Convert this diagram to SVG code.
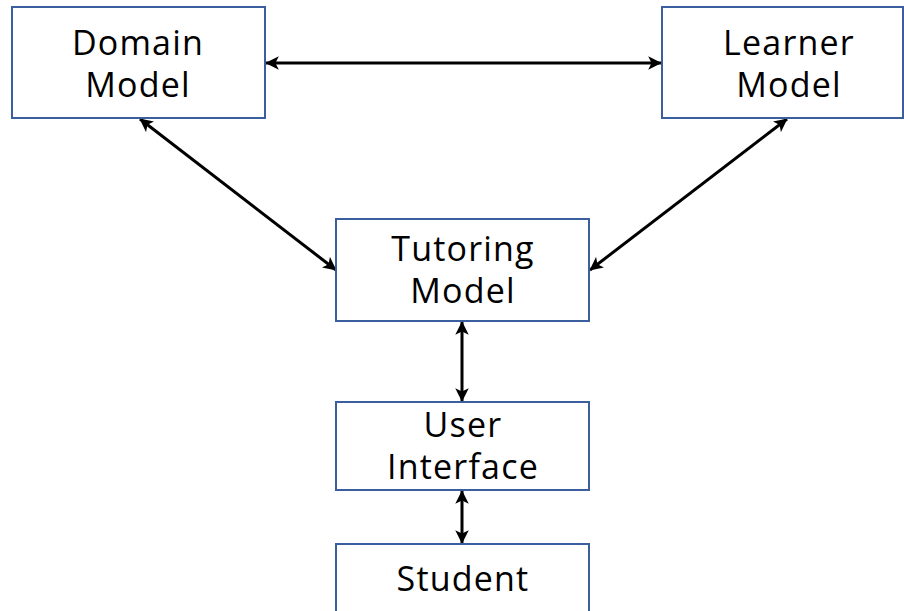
<svg xmlns="http://www.w3.org/2000/svg" width="904" height="611" viewBox="0 0 904 611">
  <defs>
    <marker id="head" viewBox="0 0 10 10" refX="9.5" refY="5" markerWidth="4.5" markerHeight="4.5" orient="auto-start-reverse" markerUnits="strokeWidth">
      <path d="M0,0 L10,5 L0,10 L2.5,5 Z" fill="#000"/>
    </marker>
  </defs>
  <style>
    .box { fill: #fff; stroke: #3B5E9E; stroke-width: 2; }
    .label { font-family: "Open Sans", "Noto Sans", sans-serif; font-size: 34px; letter-spacing: 1.2px; fill: #000; text-anchor: middle; }
    .link { stroke: #000; stroke-width: 3; fill: none; marker-start: url(#head); marker-end: url(#head); }
  </style>
  <rect width="904" height="611" fill="#fff"/>

  <g id="connectors">
    <line class="link" x1="266" y1="63" x2="661" y2="63"/>
    <line class="link" x1="140" y1="119" x2="336" y2="270"/>
    <line class="link" x1="787" y1="119" x2="590" y2="270"/>
    <line class="link" x1="462" y1="322" x2="462" y2="401"/>
    <line class="link" x1="462" y1="491" x2="462" y2="543"/>
  </g>

  <g id="domain-model">
    <rect class="box" x="12" y="7" width="253" height="111"/>
    <text class="label" x="138" y="55">Domain</text>
    <text class="label" x="138" y="97">Model</text>
  </g>

  <g id="learner-model">
    <rect class="box" x="662" y="7" width="241" height="111"/>
    <text class="label" x="789" y="55">Learner</text>
    <text class="label" x="789" y="97">Model</text>
  </g>

  <g id="tutoring-model">
    <rect class="box" x="336" y="219" width="253" height="102"/>
    <text class="label" x="463" y="261">Tutoring</text>
    <text class="label" x="463" y="303">Model</text>
  </g>

  <g id="user-interface">
    <rect class="box" x="336" y="402" width="253" height="88"/>
    <text class="label" x="463" y="437">User</text>
    <text class="label" x="463" y="479">Interface</text>
  </g>

  <g id="student">
    <rect class="box" x="336" y="544" width="253" height="80"/>
    <text class="label" x="463" y="591">Student</text>
  </g>
</svg>
